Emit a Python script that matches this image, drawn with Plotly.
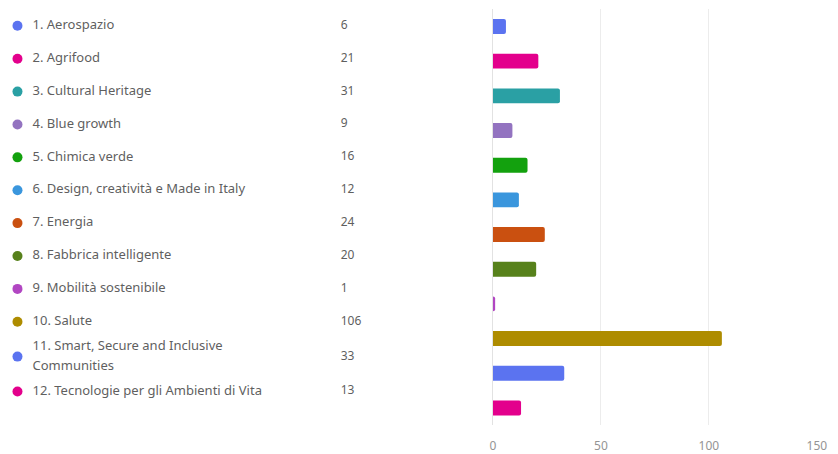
import plotly.graph_objects as go

labels = [
    "1. Aerospazio",
    "2. Agrifood",
    "3. Cultural Heritage",
    "4. Blue growth",
    "5. Chimica verde",
    "6. Design, creatività e Made in Italy",
    "7. Energia",
    "8. Fabbrica intelligente",
    "9. Mobilità sostenibile",
    "10. Salute",
    "11. Smart, Secure and Inclusive<br>Communities",
    "12. Tecnologie per gli Ambienti di Vita",
]
values = [6, 21, 31, 9, 16, 12, 24, 20, 1, 106, 33, 13]
colors = ["#5b73f0", "#e3008c", "#2aa0a4", "#9373c0", "#13a10e", "#3a96dd",
          "#ca5010", "#57811b", "#b146c2", "#ae8c00", "#5b73f0", "#e3008c"]
ticks = [0, 50, 100, 150]

W, H = 838, 454
FONT = "Segoe UI, Noto Sans, sans-serif"
TXT = "#5f5f5f"

# legend rows: two-line labels push the following rows down a little
rows = []
shift = 0.0
for lab in labels:
    extra = lab.count("<br>")
    rows.append(len(rows) + shift + 0.06 * extra)
    shift += 0.12 * extra

line_x, line_y, line_t = [], [], []
for lab, yc in zip(labels, rows):
    parts = lab.split("<br>")
    for k, p in enumerate(parts):
        line_x.append(30)
        line_y.append(yc + (k - (len(parts) - 1) / 2) * 0.6)
        line_t.append(p)

cats = [l.replace("<br>", " ") for l in labels]

fig = go.Figure()

fig.add_trace(go.Bar(
    x=values, y=cats, orientation="h",
    marker=dict(color=colors, cornerradius=2, line_width=0),
    hoverinfo="x+y",
    xaxis="x", yaxis="y",
))

# legend column: dots, labels, counts
fig.add_trace(go.Scatter(
    x=[14.7] * len(rows), y=rows, mode="markers",
    marker=dict(color=colors, size=10),
    xaxis="x2", yaxis="y2", hoverinfo="skip",
))
fig.add_trace(go.Scatter(
    x=line_x, y=line_y, text=line_t, mode="text",
    textposition="middle right",
    textfont=dict(family=FONT, size=13, color=TXT),
    xaxis="x2", yaxis="y2", hoverinfo="skip",
))
fig.add_trace(go.Scatter(
    x=[343] * len(rows), y=rows, text=[str(v) for v in values], mode="text",
    textposition="middle right",
    textfont=dict(family=FONT, size=12, color=TXT),
    xaxis="x2", yaxis="y2", hoverinfo="skip",
))

row_px = 33.1
top_px = 26
left_w = 0.45 * W

fig.update_layout(
    width=W, height=H,
    margin=dict(l=0, r=0, t=0, b=0),
    paper_bgcolor="white", plot_bgcolor="white",
    showlegend=False,
    bargap=0.57,
    font=dict(family=FONT, size=12, color=TXT),
    xaxis=dict(
        domain=[497.7 / W, 826.7 / W], range=[0, 150],
        tickvals=ticks, showgrid=True, gridcolor="#ececec", gridwidth=1,
        zeroline=True, zerolinecolor="#e2e2e2", zerolinewidth=1,
        showline=False, ticks="outside", ticklen=9, tickcolor="rgba(0,0,0,0)",
        tickfont=dict(family=FONT, size=12, color="#949494"), fixedrange=True,
    ),
    yaxis=dict(
        domain=[1 - 428.1 / H, 1 - 9.2 / H], autorange="reversed",
        showticklabels=False, showgrid=False, zeroline=False, showline=False,
        fixedrange=True,
    ),
    xaxis2=dict(
        domain=[0, 0.45], range=[0, left_w], visible=False, fixedrange=True,
    ),
    yaxis2=dict(
        domain=[0, 1], anchor="x2",
        range=[(H - top_px) / row_px, -top_px / row_px],
        visible=False, fixedrange=True,
    ),
)

# drop the default body margin so the figure sits flush in the window
fig.write_html("out.html", config={"displayModeBar": False},
               post_script="document.body.style.margin='0';")
